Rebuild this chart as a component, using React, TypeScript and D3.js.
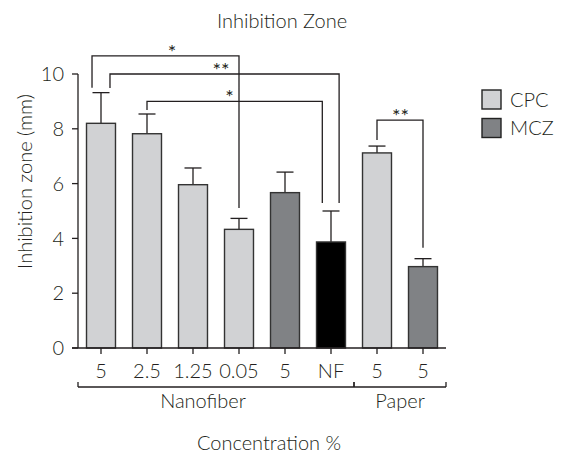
import React from "react";
import * as d3 from "d3";

// bar data
const labels = ["5", "2.5", "1.25", "0.05", "5", "NF", "5", "5"];
const groups = ["CPC", "CPC", "CPC", "CPC", "MCZ", "NF", "CPC", "MCZ"];
const means = [8.2, 7.82, 5.96, 4.33, 5.67, 3.87, 7.12, 2.97];
const errTops = [9.32, 8.54, 6.57, 4.73, 6.42, 5.0, 7.37, 3.26];
const yTicks = [0, 2, 4, 6, 8, 10];

const sections = [
  { name: "Nanofiber", first: 0, last: 5 },
  { name: "Paper", first: 6, last: 7 },
];

// significance brackets: bar index, offset within bar (fraction of bar width), y levels in mm,
// starAt = where the stars sit along the bracket
const sigs = [
  { label: "*", a: 0, aOff: -0.31, b: 3, bOff: 0, level: 10.66, aEnd: 9.5, bEnd: 5.11, starAt: 0.545 },
  { label: "**", a: 0, aOff: 0.31, b: 5, bOff: 0.28, level: 10.0, aEnd: 9.49, bEnd: 5.29, starAt: 0.485 },
  { label: "*", a: 1, aOff: 0, b: 5, bOff: -0.3, level: 9.0, aEnd: 8.69, bEnd: 5.29, starAt: 0.47 },
  { label: "**", a: 6, aOff: 0, b: 7, bOff: 0, level: 8.32, aEnd: 7.59, bEnd: 3.66, starAt: 0.51 },
];

const legendItems = ["CPC", "MCZ"];
const colors: Record<string, string> = { CPC: "#d1d2d4", MCZ: "#808285", NF: "#000000" };

const W = 566;
const H = 455;
const font = "Lato, 'Open Sans', sans-serif";
const ink = "#231f20";

export default function App() {
  const x = d3.scaleBand<number>().domain(d3.range(labels.length)).range([78, 446]).paddingInner(0.37).paddingOuter(0.185);
  const y = d3.scaleLinear().domain([0, 10]).range([348, 74]);
  const bw = x.bandwidth();
  const cx = (i: number) => (x(i) as number) + bw / 2;
  const step = x.step();

  return (
    <svg width={W} height={H} style={{ position: "absolute", left: 0, top: 0 }} fontFamily={font} fontWeight={300}>
      <text x={282} y={28} textAnchor="middle" fontSize={20} fill={ink}>Inhibition Zone</text>

      {/* y axis */}
      <line x1={78} x2={78} y1={y(10)} y2={y(0)} stroke={ink} strokeWidth={1.3} />
      {yTicks.map((t) => (
        <g key={t}>
          <line x1={72} x2={78} y1={y(t)} y2={y(t)} stroke={ink} strokeWidth={1.3} />
          <text x={64} y={y(t)} dy="0.36em" textAnchor="end" fontSize={20} fill={ink}>{t}</text>
        </g>
      ))}
      <text transform="translate(32,181.5) rotate(-90)" textAnchor="middle" fontSize={20} fill={ink}>Inhibition zone (mm)</text>

      {/* bars */}
      {means.map((m, i) => (
        <g key={i}>
          <line x1={cx(i)} x2={cx(i)} y1={y(m)} y2={y(errTops[i])} stroke={ink} strokeWidth={1.3} />
          <line x1={cx(i) - 8.5} x2={cx(i) + 8.5} y1={y(errTops[i])} y2={y(errTops[i])} stroke={ink} strokeWidth={1.3} />
          <rect x={x(i)} y={y(m)} width={bw} height={y(0) - y(m)} fill={colors[groups[i]]} stroke="#333" strokeWidth={1.4} />
        </g>
      ))}

      {/* x axis */}
      <line x1={72} x2={446} y1={y(0)} y2={y(0)} stroke={ink} strokeWidth={1.3} />
      {labels.map((l, i) => (
        <g key={i}>
          <line x1={cx(i)} x2={cx(i)} y1={y(0)} y2={y(0) + 6} stroke={ink} strokeWidth={1.3} />
          <text x={cx(i)} y={378} textAnchor="middle" fontSize={20} fill={ink}>{l}</text>
        </g>
      ))}

      {/* section brackets */}
      <line x1={78} x2={446} y1={387} y2={387} stroke={ink} strokeWidth={1.3} />
      {sections.map((s) => {
        const x0 = s.first === 0 ? 78 : cx(s.first) - step / 2;
        const x1 = cx(s.last) + step / 2;
        return (
          <g key={s.name}>
            <line x1={x0} x2={x0} y1={382} y2={387} stroke={ink} strokeWidth={1.3} />
            <line x1={x1} x2={x1} y1={382} y2={387} stroke={ink} strokeWidth={1.3} />
            <text x={s.first === 0 ? 203 : (x0 + x1) / 2} y={408} textAnchor="middle" fontSize={20} fill={ink}>{s.name}</text>
          </g>
        );
      })}

      {/* significance */}
      {sigs.map((s, k) => {
        const xa = cx(s.a) + s.aOff * bw;
        const xb = cx(s.b) + s.bOff * bw;
        return (
          <g key={k}>
            <path d={`M${xa},${y(s.aEnd)}V${y(s.level)}H${xb}V${y(s.bEnd)}`} fill="none" stroke={ink} strokeWidth={1.3} />
            <text x={xa + (xb - xa) * s.starAt} y={y(s.level) + 3} textAnchor="middle" fontSize={20} fontWeight={400} fill={ink}>{s.label}</text>
          </g>
        );
      })}

      {/* legend */}
      {legendItems.map((g, i) => (
        <g key={g} transform={`translate(482,${90 + i * 28.5})`}>
          <rect width={19} height={19} fill={colors[g]} stroke="#222" strokeWidth={1.4} />
          <text x={28} y={9.5} dy="0.36em" fontSize={20} fill={ink}>{g}</text>
        </g>
      ))}

      <text x={269} y={450} textAnchor="middle" fontSize={20} fill={ink}>Concentration %</text>
    </svg>
  );
}
